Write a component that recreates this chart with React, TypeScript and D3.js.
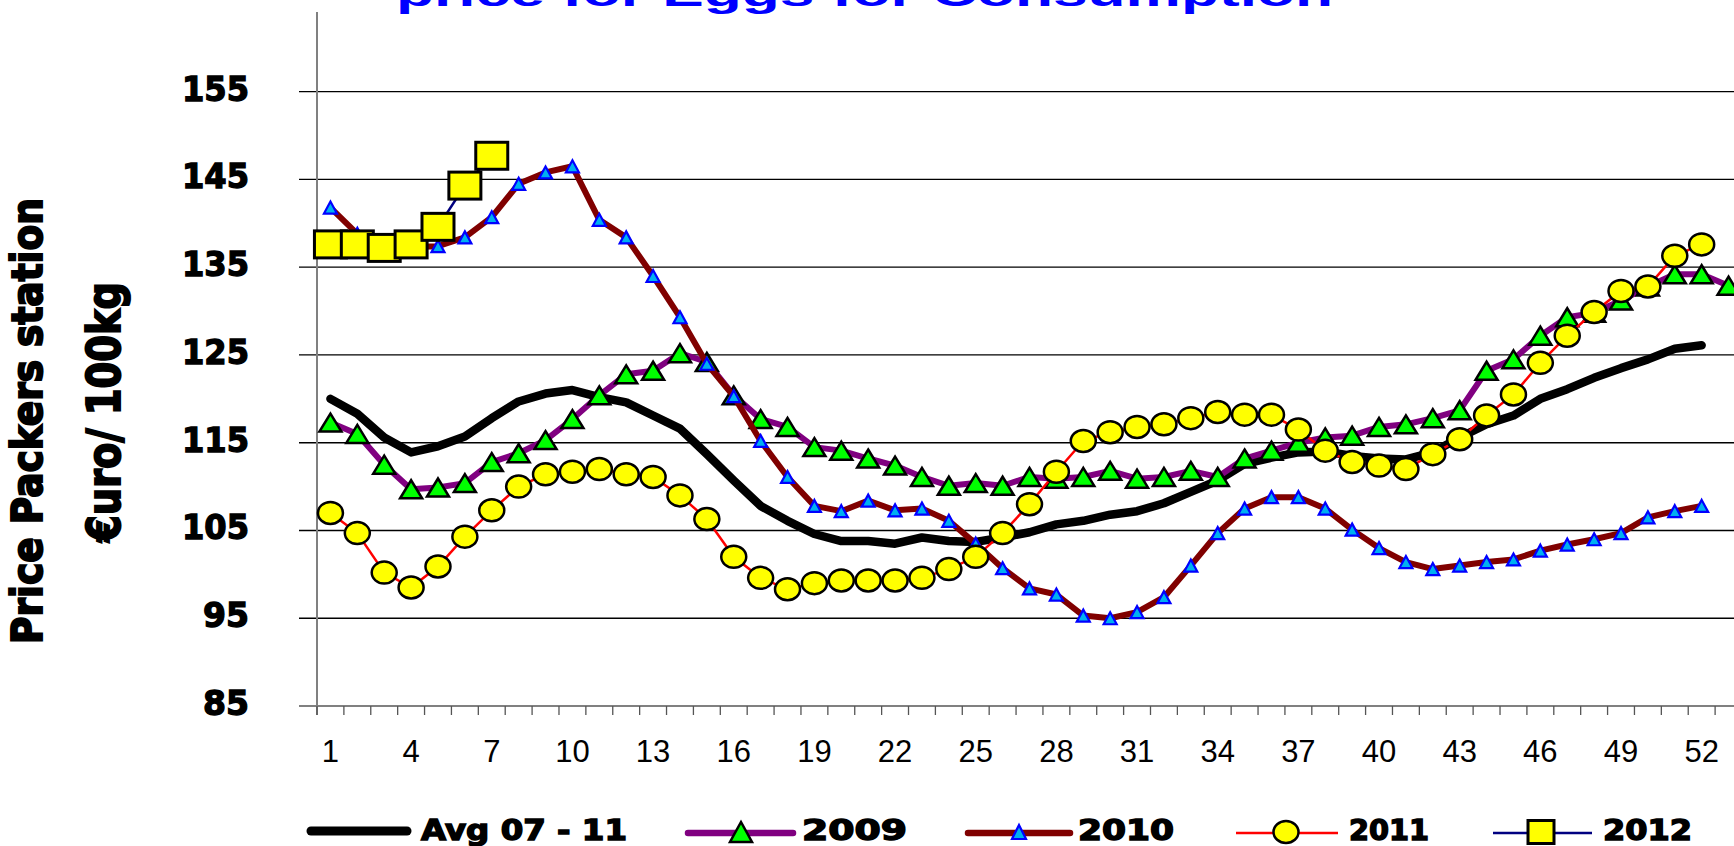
import React from 'react';
import * as d3 from 'd3';

const width = 1734;
const height = 846;

// weeks on the category axis (53 slots, the 53rd is cut by the right edge)
const weeks = d3.range(1, 54);
const xLabels = [1, 4, 7, 10, 13, 16, 19, 22, 25, 28, 31, 34, 37, 40, 43, 46, 49, 52];
const yTicks = [85, 95, 105, 115, 125, 135, 145, 155];

const avg0711 = [
  120.0, 118.3, 115.6, 113.9, 114.6, 115.7, 117.8, 119.7, 120.6, 121.0, 120.2, 119.6, 118.1,
  116.6, 113.7, 110.7, 107.8, 106.1, 104.6, 103.8, 103.8, 103.5, 104.2, 103.8, 103.7, 104.2,
  104.8, 105.7, 106.1, 106.8, 107.2, 108.1, 109.4, 110.7, 112.6, 113.3, 113.9, 114.0, 113.5,
  113.2, 113.1, 113.9, 115.6, 117.1, 118.1, 120.0, 121.1, 122.4, 123.5, 124.5, 125.7, 126.1,
];
const y2009 = [
  117.3, 116.0, 112.5, 109.7, 109.9, 110.4, 112.8, 113.8, 115.3, 117.7, 120.4, 122.8, 123.2,
  125.2, 124.2, 120.4, 117.7, 116.8, 114.5, 114.1, 113.2, 112.4, 111.1, 110.1, 110.4, 110.1,
  111.1, 110.9, 111.1, 111.8, 110.9, 111.1, 111.8, 111.1, 113.2, 114.1, 115.0, 115.6, 115.8,
  116.8, 117.1, 117.8, 118.7, 123.2, 124.5, 127.2, 129.3, 129.8, 131.2, 132.8, 134.2, 134.2,
  132.9,
];
const y2010 = [
  141.8, 138.8, 137.6, 137.3, 137.4, 138.4, 140.7, 144.5, 145.8, 146.5, 140.4, 138.4, 134.0,
  129.3, 124.0, 120.3, 115.2, 111.1, 107.8, 107.2, 108.4, 107.3, 107.5, 106.1, 103.5, 100.7,
  98.4, 97.7, 95.3, 95.0, 95.7, 97.4, 101.0, 104.7, 107.5, 108.8, 108.8, 107.5, 105.1, 103.0,
  101.4, 100.6, 101.0, 101.4, 101.7, 102.7, 103.4, 104.0, 104.7, 106.5, 107.2, 107.8,
];
const y2011 = [
  107.0, 104.7, 100.2, 98.5, 100.9, 104.3, 107.3, 110.0, 111.4, 111.7, 112.0, 111.4, 111.1,
  109.0, 106.3, 102.0, 99.6, 98.3, 99.0, 99.3, 99.3, 99.3, 99.6, 100.6, 102.0, 104.7, 108.0,
  111.7, 115.2, 116.2, 116.8, 117.1, 117.8, 118.5, 118.2, 118.2, 116.5, 114.1, 112.8, 112.4,
  112.0, 113.7, 115.4, 118.1, 120.5, 124.1, 127.2, 129.9, 132.3, 132.8, 136.3, 137.6,
];
const y2012 = [137.6, 137.6, 137.2, 137.6, 139.6, 144.3, 147.7];

const x = d3.scaleBand<number>().domain(weeks).range([317, 1742]);
const cx = (i: number) => (x(i + 1) as number) + x.bandwidth() / 2;
const y = d3.scaleLinear().domain([85, 155]).range([706, 91.7]);

const line = d3
  .line<number>()
  .x((d, i) => cx(i))
  .y((d) => y(d));

const tri = (px: number, py: number, w: number, h: number) =>
  `M${px},${py - h / 2}L${px + w / 2},${py + h / 2}L${px - w / 2},${py + h / 2}Z`;

const boldFont = "'DejaVu Sans', Verdana, sans-serif";
const plainFont = "'Liberation Sans', Arial, sans-serif";

function App() {
  const plotLeft = 317;
  const plotTop = 12;
  const plotBottom = y(85);
  const boundaries = weeks.map((w) => x(w) as number).filter((v) => v <= width);

  return (
    <div style={{ position: 'absolute', left: 0, top: 0 }}>
      <svg width={width} height={height} style={{ display: 'block', background: '#fff' }}>
        {/* title, mostly cut off at the top */}
        <text
          x={396}
          y={6}
          fill="#0000FF"
          fontFamily={plainFont}
          fontWeight="bold"
          fontSize={36}
          textLength={937}
          lengthAdjust="spacingAndGlyphs"
        >
          price for Eggs for Consumption
        </text>

        {/* gridlines + y labels */}
        {yTicks.map((t) => (
          <g key={t}>
            <line
              x1={299}
              x2={width}
              y1={y(t)}
              y2={y(t)}
              stroke={t === 85 ? '#808080' : '#000'}
              strokeWidth={t === 85 ? 2 : 1.3}
            />
            <text
              x={249}
              y={y(t) + 9}
              textAnchor="end"
              fontFamily={boldFont}
              fontWeight="bold"
              fontSize={34}
              stroke="#000"
              strokeWidth={1.4}
              textLength={t < 100 ? 46 : 67}
              lengthAdjust="spacingAndGlyphs"
            >
              {t}
            </text>
          </g>
        ))}

        {/* y axis */}
        <line x1={plotLeft} x2={plotLeft} y1={plotTop} y2={plotBottom + 9} stroke="#808080" strokeWidth={2} />

        {/* x axis ticks + labels */}
        {boundaries.map((b, i) => (
          <line key={i} x1={b} x2={b} y1={plotBottom} y2={plotBottom + 9} stroke="#555" strokeWidth={1.3} />
        ))}
        {xLabels.map((w) => (
          <text
            key={w}
            x={cx(w - 1)}
            y={762}
            textAnchor="middle"
            fontFamily={plainFont}
            fontSize={31}
          >
            {w}
          </text>
        ))}

        {/* y axis title */}
        <text
          transform="translate(42,421) rotate(-90)"
          textAnchor="middle"
          fontFamily={boldFont}
          fontWeight="bold"
          fontSize={42}
          stroke="#000"
          strokeWidth={2}
          textLength={446}
          lengthAdjust="spacingAndGlyphs"
        >
          Price Packers station
        </text>
        <text
          transform="translate(120,412) rotate(-90)"
          textAnchor="middle"
          fontFamily={boldFont}
          fontWeight="bold"
          fontSize={46}
          stroke="#000"
          strokeWidth={2}
          textLength={260}
          lengthAdjust="spacingAndGlyphs"
        >
          €uro/ 100kg
        </text>

        {/* series */}
        <path d={line(avg0711) ?? ''} fill="none" stroke="#000" strokeWidth={8.5} strokeLinejoin="round" strokeLinecap="round" />

        <path d={line(y2009) ?? ''} fill="none" stroke="#800080" strokeWidth={6} strokeLinejoin="round" />
        {y2009.map((v, i) => (
          <path key={i} d={tri(cx(i), y(v), 22, 18)} fill="#00FF00" stroke="#000" strokeWidth={2.5} strokeLinejoin="miter" />
        ))}

        <path d={line(y2010) ?? ''} fill="none" stroke="#800000" strokeWidth={6} strokeLinejoin="round" />
        {y2010.map((v, i) => (
          <path key={i} d={tri(cx(i), y(v), 13, 12)} fill="#00B0F0" stroke="#0000FF" strokeWidth={2.2} />
        ))}

        <path d={line(y2011) ?? ''} fill="none" stroke="#FF0000" strokeWidth={2.5} />
        {y2011.map((v, i) => (
          <ellipse key={i} cx={cx(i)} cy={y(v)} rx={12.5} ry={11} fill="#FFFF00" stroke="#000" strokeWidth={2.5} />
        ))}

        <path d={line(y2012) ?? ''} fill="none" stroke="#000080" strokeWidth={2.5} />
        {y2012.map((v, i) => (
          <rect key={i} x={cx(i) - 16} y={y(v) - 13.5} width={32} height={27} fill="#FFFF00" stroke="#000" strokeWidth={3} />
        ))}

        {/* legend */}
        <g fontFamily={boldFont} fontWeight="bold" fontSize={28}>
          <line x1={311} x2={407} y1={831} y2={831} stroke="#000" strokeWidth={9} strokeLinecap="round" />
          <text x={421} y={840} stroke="#000" strokeWidth={1.4} textLength={206} lengthAdjust="spacingAndGlyphs">Avg 07 - 11</text>

          <line x1={688} x2={793} y1={833} y2={833} stroke="#800080" strokeWidth={6.5} strokeLinecap="round" />
          <path d={tri(741, 832, 22, 20)} fill="#00FF00" stroke="#000" strokeWidth={2.5} />
          <text x={802} y={840} stroke="#000" strokeWidth={1.4} textLength={105} lengthAdjust="spacingAndGlyphs">2009</text>

          <line x1={968} x2={1070} y1={833} y2={833} stroke="#800000" strokeWidth={6.5} strokeLinecap="round" />
          <path d={tri(1019, 832, 14, 14)} fill="#00B0F0" stroke="#0000FF" strokeWidth={2.2} />
          <text x={1078} y={840} stroke="#000" strokeWidth={1.4} textLength={96} lengthAdjust="spacingAndGlyphs">2010</text>

          <line x1={1236} x2={1338} y1={833} y2={833} stroke="#FF0000" strokeWidth={2.7} />
          <ellipse cx={1286} cy={832} rx={12.5} ry={11} fill="#FFFF00" stroke="#000" strokeWidth={2.5} />
          <text x={1349} y={840} stroke="#000" strokeWidth={1.4} textLength={80} lengthAdjust="spacingAndGlyphs">2011</text>

          <line x1={1493} x2={1592} y1={833} y2={833} stroke="#000080" strokeWidth={2.7} />
          <rect x={1528} y={820.5} width={26} height={23} fill="#FFFF00" stroke="#000" strokeWidth={3} />
          <text x={1603} y={840} stroke="#000" strokeWidth={1.4} textLength={89} lengthAdjust="spacingAndGlyphs">2012</text>
        </g>
      </svg>
    </div>
  );
}

export default App;
